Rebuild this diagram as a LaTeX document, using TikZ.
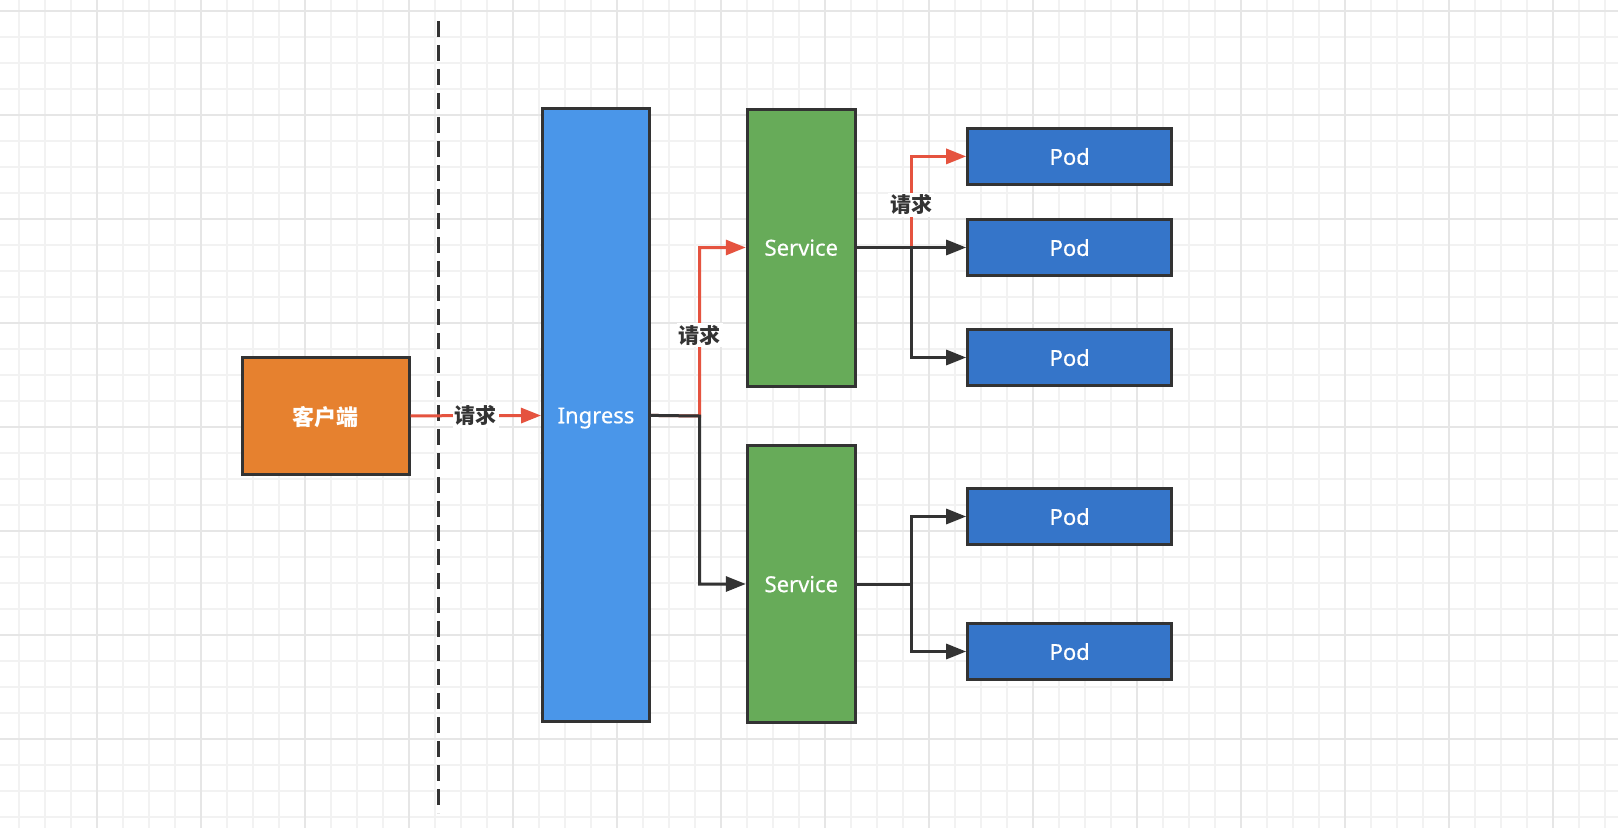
\documentclass[tikz,border=0pt]{standalone}
\usepackage{fontspec}
\setmainfont{Noto Sans}
\newfontfamily\cjk{Noto Sans CJK SC}
\usetikzlibrary{arrows.meta}
\definecolor{edgegray}{HTML}{333333}
\definecolor{clientorange}{HTML}{E6812F}
\definecolor{ingressblue}{HTML}{4A96E9}
\definecolor{servicegreen}{HTML}{67AB59}
\definecolor{podblue}{HTML}{3575C9}
\definecolor{reqred}{HTML}{E5533F}
\definecolor{minorgray}{HTML}{F2F2F2}
\definecolor{majorgray}{HTML}{E6E6E6}
\tikzset{
		minor line/.style={draw=minorgray, line width=1.6pt},
		major line/.style={draw=majorgray, line width=2pt},
		divider/.style={draw=edgegray, line width=3pt, dash pattern=on 16pt off 8pt},
		box/.style={draw=edgegray, line width=3pt, text=white, inner sep=0pt, text depth=0pt,
			font=\fontsize{22}{26}\selectfont\addfontfeatures{FakeBold=0.5}},
		client box/.style={box, fill=clientorange, minimum width=167pt, minimum height=117pt,
			font=\fontsize{22}{26}\selectfont\cjk\bfseries},
		ingress box/.style={box, fill=ingressblue, minimum width=107pt, minimum height=613pt},
		service box/.style={box, fill=servicegreen, minimum width=108pt, minimum height=277pt},
		pod box/.style={box, fill=podblue, minimum width=204pt, minimum height=56pt},
		req/.style={draw=reqred},
		lbl/.style={fill=white, text=edgegray, inner sep=2pt,
			font=\fontsize{21}{24}\selectfont\cjk\bfseries}
	}
\begin{document}
\begin{tikzpicture}[x=1pt, y=-1pt, >={Triangle[length=20pt,width=15pt]}, line width=3pt, draw=edgegray]
	\useasboundingbox (0,0) rectangle (1618,828);
	\fill[white] (0,0) rectangle (1618,828);
	\foreach \x in {19,45,...,1618} \draw[minor line] (\x,0) -- (\x,828);
	\foreach \y in {11,37,...,828} \draw[minor line] (0,\y) -- (1618,\y);
	\foreach \x in {97,201,...,1618} \draw[major line] (\x,0) -- (\x,828);
	\foreach \y in {11,115,...,828} \draw[major line] (0,\y) -- (1618,\y);

	\coordinate (cut top) at (438.5,21);
	\coordinate (cut bottom) at (438.5,813);
	\draw[divider] (cut top) -- (cut bottom);

	\node[client box]  (client)  at (325.6,416)  {客户端};
	\node[ingress box] (ingress) at (596,415.4)  {Ingress};
	\node[service box] (svc1)    at (801.3,247.5) {Service};
	\node[service box] (svc2)    at (801.3,584)  {Service};
	\node[pod box]     (pod1)    at (1069.7,156.4) {Pod};
	\node[pod box]     (pod2)    at (1069.7,247.5) {Pod};
	\node[pod box]     (pod3)    at (1069.7,357.5) {Pod};
	\node[pod box]     (pod4)    at (1069.7,516.5) {Pod};
	\node[pod box]     (pod5)    at (1069.7,651.5) {Pod};

	\coordinate (fork0) at (699.5,416);
	\coordinate (fork1) at (911,247.5);
	\coordinate (fork2) at (911,584);

	\draw[req, ->] (client) -- node[lbl] {请求} (ingress);
	\draw[req, ->] (ingress.east) -- (fork0) |- node[lbl, pos=0.24] {请求} (svc1.west);
	\draw[->] (ingress.east) -- (fork0) |- (svc2.west);
	\draw[req, ->] (svc1.east) -- (fork1) |- node[lbl, pos=0.235] {请求} (pod1.west);
	\draw[->] (svc1.east) -- (fork1) |- (pod2.west);
	\draw[->] (fork1) |- (pod3.west);
	\draw[->] (svc2.east) -- (fork2) |- (pod4.west);
	\draw[->] (fork2) |- (pod5.west);
\end{tikzpicture}
\end{document}
